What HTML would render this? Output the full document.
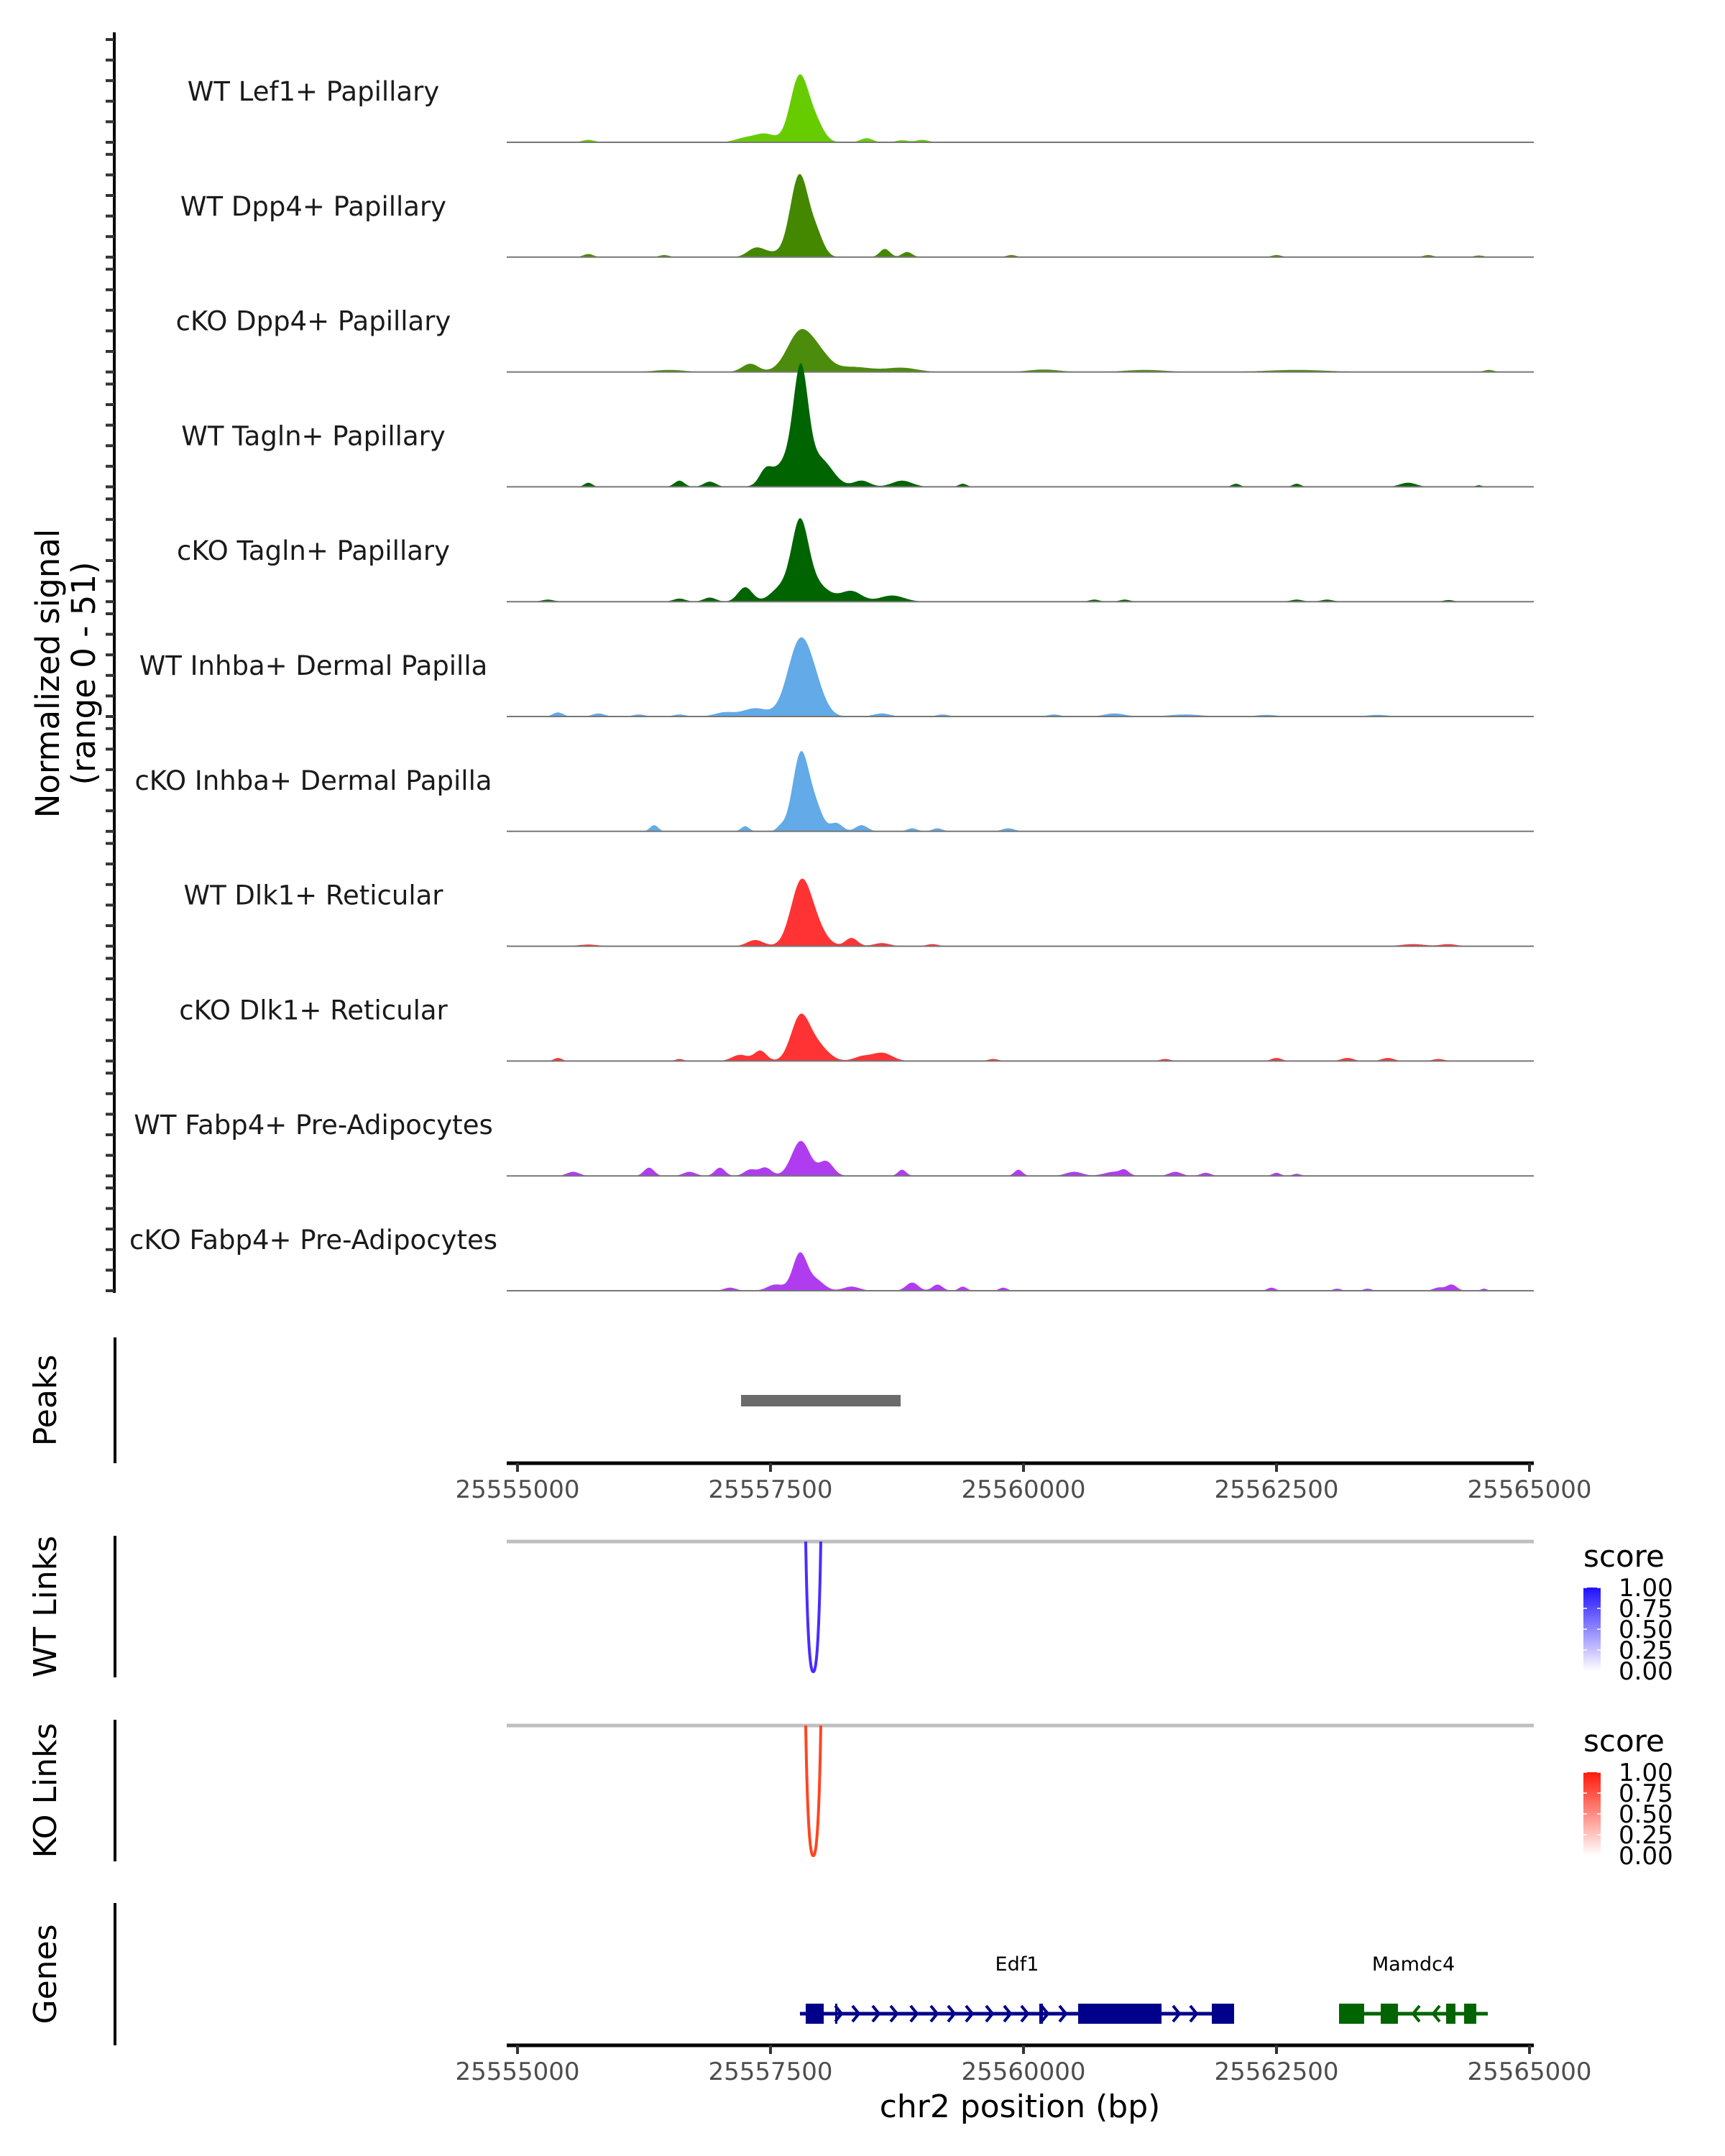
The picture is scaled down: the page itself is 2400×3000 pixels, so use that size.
<!DOCTYPE html>
<html><head><meta charset="utf-8"><style>
html,body{margin:0;padding:0;background:#fff}
svg{display:block}
text{font-family:"DejaVu Sans","Liberation Sans",sans-serif}
</style></head><body>
<svg id="chart" xmlns="http://www.w3.org/2000/svg" width="2400" height="3000" viewBox="0 0 2400 3000">
<g id="tracks"></g>
<g id="lower"></g>
</svg>
<script>
// ---- data ----
const trackLabels = ["WT Lef1+ Papillary","WT Dpp4+ Papillary","cKO Dpp4+ Papillary","WT Tagln+ Papillary","cKO Tagln+ Papillary","WT Inhba+ Dermal Papilla","cKO Inhba+ Dermal Papilla","WT Dlk1+ Reticular","cKO Dlk1+ Reticular","WT Fabp4+ Pre-Adipocytes","cKO Fabp4+ Pre-Adipocytes"];
const trackColors = ["#66cc00","#448800","#4c8c0c","#006400","#006400","#62aae8","#62aae8","#ff3333","#ff3333","#b03cf0","#b03cf0"];
// peaks: [position bp, signal, width bp]
const sigLef1 = [[25557786,32,90],[25557950,8,80],[25557450,4,100],[25557250,2,100],[25555700,1.2,60],[25558450,2,60],[25559000,1.2,60],[25558800,1,60]];
const sigDpp4 = [[25557786,40,90],[25557960,9,70],[25557350,4,80],[25557500,2,100],[25558630,4,50],[25558850,2.5,50],[25555700,1.5,50],[25556450,1,50],[25559880,1,50],[25562500,1,50],[25564000,1,50],[25564500,0.8,50]];
const sigKoDpp4 = [[25557800,20,130],[25558000,5,100],[25557300,4,80],[25558300,2.5,200],[25558800,2,150],[25556500,1,150],[25560200,1.2,150],[25561200,1,200],[25562700,1,300],[25564600,1,50]];
const sigTagln = [[25557800,46,70],[25557700,14,150],[25558000,12,120],[25557450,6,60],[25556600,3,50],[25556900,2.5,60],[25555700,2,40],[25558400,3,80],[25558800,3,100],[25559400,1.5,40],[25562100,1.5,40],[25562700,1.5,40],[25563800,2,80],[25564500,0.8,30]];
const sigKoTagln = [[25557790,32,80],[25557900,10,150],[25557250,7,70],[25557600,6,100],[25558300,5,100],[25558700,3,120],[25556600,1.5,60],[25556900,2,60],[25555300,1,60],[25560700,1,50],[25561000,1,50],[25562700,1,60],[25563000,1,60],[25564200,0.8,50]];
const sigInhba = [[25557790,36,120],[25557950,8,100],[25557350,4,120],[25557050,2,100],[25555400,2,50],[25555800,1.5,60],[25556200,1,60],[25556600,1,60],[25558600,1.5,80],[25559200,1,60],[25560300,1,60],[25560900,1.5,100],[25561600,1,150],[25562400,0.8,100],[25563500,0.8,100]];
const sigKoInhba = [[25557800,38,80],[25557950,10,70],[25558150,4,60],[25558400,3,60],[25556350,3,40],[25557250,2.5,40],[25557600,2,40],[25558900,1.5,50],[25559150,1.5,50],[25559850,1.5,60]];
const sigDlk1 = [[25557800,30,100],[25557950,8,100],[25557350,3,80],[25558300,4,60],[25558600,1.5,80],[25559100,1,60],[25555700,0.8,100],[25563850,1,120],[25564200,1,80]];
const sigKoDlk1 = [[25557790,20,90],[25557950,8,110],[25557400,5,60],[25557200,3,80],[25558600,4,100],[25558400,2,80],[25555400,1.5,40],[25556600,1,40],[25559700,1,50],[25561400,1,50],[25562500,1.5,50],[25563200,1.5,60],[25563600,1.5,60],[25564100,1,60]];
const sigFabp4 = [[25557800,17,90],[25558050,7,70],[25557450,4,60],[25557300,3,60],[25556300,4,50],[25557000,4,50],[25555550,2,60],[25556700,2,60],[25558800,3,40],[25559950,3,40],[25560500,2,80],[25560900,2,100],[25561000,2,40],[25561500,2,60],[25561800,1.5,50],[25562500,1.5,40],[25562700,1,40]];
const sigKoFabp4 = [[25557790,18,70],[25557950,5,80],[25557550,3,80],[25558900,4,60],[25559150,3,50],[25558300,2,80],[25559400,2,40],[25557100,1.5,60],[25559800,1.5,40],[25562450,1.5,40],[25563100,1,40],[25563400,1,40],[25564230,3,50],[25564100,1.5,50],[25564550,1,30]];
const signals = [sigLef1,sigDpp4,sigKoDpp4,sigTagln,sigKoTagln,sigInhba,sigKoInhba,sigDlk1,sigKoDlk1,sigFabp4,sigKoFabp4];
const xTicks = [25555000,25557500,25560000,25562500,25565000];
const yTicks = [0,10,20,30,40,50];
const peakRegions = [[25557209,25558786]];
const wtLinks = [[25557848,25557997,1.0]];
const koLinks = [[25557848,25557997,1.0]];
const legendTicks = ["1.00","0.75","0.50","0.25","0.00"];
const edf1Range = [25557791,25562081];
const edf1Exons = [[25557848,25558026],[25558139,25558160],[25560156,25560192],[25560540,25561364],[25561861,25562081]];
const edf1Arrows = [25558175,25558345,25558544,25558722,25558920,25559119,25559290,25559467,25559666,25559844,25560014,25560213,25560391,25561513,25561683];
const mamRange = [25563118,25564588];
const mamExons = [[25563118,25563366],[25563530,25563700],[25564176,25564268],[25564354,25564474]];
const mamArrows = [25563878,25564077];

// ---- scales ----
const NS="http://www.w3.org/2000/svg";
const X0=720, PXBP=0.1408, START=25555000;
function xs(bp){return X0+(bp-START)*PXBP;}
const BASE0=198, STEP=159.8, UNIT=2.86;
function base(i){return BASE0+STEP*i;}
function el(tag,attrs,parent,txt){const e=document.createElementNS(NS,tag);for(const k in attrs)e.setAttribute(k,attrs[k]);if(txt!==undefined)e.textContent=txt;parent.appendChild(e);return e;}
const T=document.getElementById('tracks'), L=document.getElementById('lower');

// left axis
const ax=el('line',{x1:159,y1:45,x2:159,y2:base(10)+3,stroke:'#000','stroke-width':4},T);


const yt=el('text',{transform:'translate(82,937) rotate(-90)','text-anchor':'middle','font-size':45,fill:'#000'},T);


el('tspan',{x:0,dy:0},yt,'Normalized signal');
el('tspan',{x:0,dy:50},yt,'(range 0 - 51)');

signals.forEach((sig,i)=>{
  const b=base(i);
  const g=el('g',{},T);
  
  
  yTicks.forEach(v=>{
    const t=el('line',{x1:147,x2:159,y1:b-v*UNIT,y2:b-v*UNIT,stroke:'#333','stroke-width':4},g);
    
    
  });
  const lab=el('text',{x:436,y:b-58,'text-anchor':'middle','font-size':37,fill:'#1a1a1a'},g,trackLabels[i]);
  
  
  let d='M'+xs(START)+','+b;
  for(let bp=START;bp<=25565000;bp+=10){
    let v=0;sig.forEach(p=>{const z=(bp-p[0])/p[2];v+=p[1]*Math.exp(-0.5*z*z);});
    if(v<0.15)v=0;
    d+=' L'+xs(bp).toFixed(1)+','+(b-v*UNIT).toFixed(1);
  }
  d+=' L'+xs(25565000)+','+b+' Z';
  const a=el('path',{d:d,fill:trackColors[i]},g);
  
  
  const bl=el('line',{x1:705,x2:2134,y1:b,y2:b,stroke:'#777','stroke-width':2},g);
  
  
});

// panel titles/lines
function panel(name,title,y1,y2){
  const l=el('line',{x1:160,x2:160,y1:y1,y2:y2,stroke:'#000','stroke-width':4},L);
  
  
  const t=el('text',{transform:'translate(78,'+((y1+y2)/2)+') rotate(-90)','text-anchor':'middle','font-size':44,fill:'#000'},L,title);
  
  
}
panel('peaks','Peaks',1861,2036);
panel('wt-links','WT Links',2137,2334);
panel('ko-links','KO Links',2393,2590);
panel('genes','Genes',2648,2846);

function xaxis(y,name){
  const g=el('g',{},L);
  
  
  el('line',{x1:705,x2:2134,y1:y,y2:y,stroke:'#000','stroke-width':5},g);
  xTicks.forEach(v=>{
    el('line',{x1:xs(v),x2:xs(v),y1:y,y2:y+12,stroke:'#333','stroke-width':4},g);
    const t=el('text',{x:xs(v),y:y+48,'text-anchor':'middle','font-size':34,fill:'#4d4d4d'},g,String(v));
    
    
  });
}
xaxis(2036,'peaks-x-axis');
xaxis(2846,'genes-x-axis');
peakRegions.forEach(p=>{
  const r=el('rect',{x:xs(p[0]),y:1941,width:xs(p[1])-xs(p[0]),height:16,fill:'#6b6b6b'},L);
  
  
});

function links(arr,yTop,depth,color,name){
  el('line',{x1:705,x2:2134,y1:yTop,y2:yTop,stroke:'#bfbfbf','stroke-width':5},L);
  arr.forEach(k=>{
    const a=xs(k[0]),b=xs(k[1]),m=(a+b)/2,yb=yTop+depth*k[2];
    const p=el('path',{d:`M${a},${yTop} C${a+2},${yb-60} ${m-5},${yb+2} ${m},${yb} C${m+5},${yb+2} ${b-2},${yb-60} ${b},${yTop}`,fill:'none',stroke:color,'stroke-width':4},L);
    
    
  });
}
links(wtLinks,2145,181,'#4a2cff','wt-link-arc');
links(koLinks,2401,181,'#ff4522','ko-link-arc');

function legend(yTitle,yBar,c,name){
  const g=el('g',{},L);
  
  
  el('text',{x:2203,y:yTitle,'font-size':42,fill:'#000'},g,'score');
  const gid='grad'+name;
  const defs=el('defs',{},g);
  const lg=el('linearGradient',{id:gid,x1:0,y1:1,x2:0,y2:0},defs);
  el('stop',{offset:0,'stop-color':'#ffffff'},lg);
  el('stop',{offset:1,'stop-color':c},lg);
  el('rect',{x:2203,y:yBar,width:24,height:116,fill:'url(#'+gid+')'},g);
  legendTicks.forEach((t,i)=>{
    const yy=yBar+i*29;
    el('line',{x1:2203,x2:2208,y1:yy,y2:yy,stroke:'#fff','stroke-width':1.5},g);
    el('line',{x1:2222,x2:2227,y1:yy,y2:yy,stroke:'#fff','stroke-width':1.5},g);
    el('text',{x:2252,y:yy+12,'font-size':34,fill:'#000'},g,t);
  });
}
legend(2180,2209,'#2010ff','wt-legend');
legend(2437,2466,'#ff1a0a','ko-legend');

function gene(range,exons,arrows,dir,color,label,name){
  const g=el('g',{},L);
  
  
  const y=2802;
  el('line',{x1:xs(range[0]),x2:xs(range[1]),y1:y,y2:y,stroke:color,'stroke-width':5},g);
  exons.forEach(e=>el('rect',{x:xs(e[0]),y:y-14,width:Math.max(3,xs(e[1])-xs(e[0])),height:28,fill:color},g));
  arrows.forEach(a=>{const x=xs(a);el('path',{d:dir>0?`M${x-5},${y-11} L${x+4},${y} L${x-5},${y+11}`:`M${x+5},${y-11} L${x-4},${y} L${x+5},${y+11}`,fill:'none',stroke:color,'stroke-width':4},g);});
  const t=el('text',{x:(xs(range[0])+xs(range[1]))/2,y:2742,'text-anchor':'middle','font-size':27,fill:'#000'},g,label);
  
  
}
gene(edf1Range,edf1Exons,edf1Arrows,1,'#00008b','Edf1','gene-edf1');
gene(mamRange,mamExons,mamArrows,-1,'#006400','Mamdc4','gene-mamdc4');

const xt=el('text',{x:1419,y:2946,'text-anchor':'middle','font-size':44,fill:'#000'},L,'chr2 position (bp)');


</script>
</body></html>
